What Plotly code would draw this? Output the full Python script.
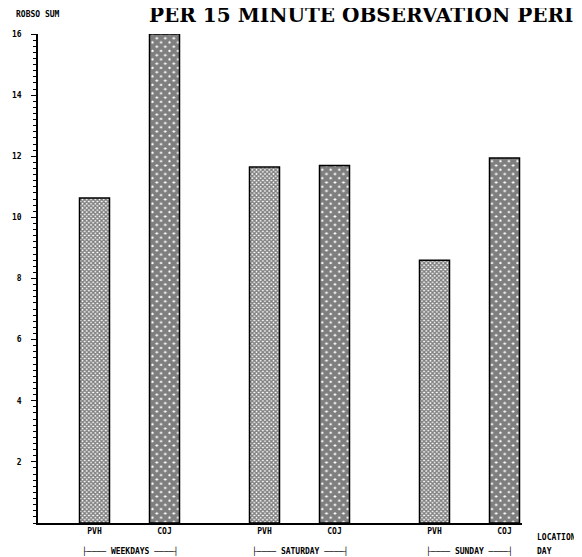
import plotly.graph_objects as go

# Data
days = ["WEEKDAYS", "SATURDAY", "SUNDAY"]
locations = ["PVH", "COJ"]
pvh_values = [10.63, 11.65, 8.6]
coj_values = [16.0, 11.7, 11.94]
y_ticks = [2, 4, 6, 8, 10, 12, 14, 16]

OFF = 8  # page body margin offset
W, H = 582 - OFF, 557 - OFF
L, T = 38 - OFF, 34 - OFF
R = W - (522 - OFF)
B = H - (523 - OFF)
plot_w = W - L - R
plot_h = H - T - B

group_step = 170
pair_step = 70
bar_w = 30
x_lo = -56.5
x_hi = x_lo + plot_w

def px_to_paper(px):
    return (px - OFF - L) / plot_w

def py_to_paper(py):
    return 1 - (py - OFF - T) / plot_h

pvh_x = [i * group_step for i in range(len(days))]
coj_x = [i * group_step + pair_step for i in range(len(days))]

mono = "DejaVu Sans Mono"
lab_font = dict(family=mono, size=8, color="black", weight="bold")

fig = go.Figure()
fig.add_trace(go.Bar(
    x=pvh_x, y=pvh_values, width=bar_w, name="PVH",
    marker=dict(color="white", line=dict(color="black", width=1.5),
                pattern=dict(shape="x", size=3, solidity=0.7, fgcolor="black", bgcolor="white")),
))
fig.add_trace(go.Bar(
    x=coj_x, y=coj_values, width=bar_w, name="COJ",
    marker=dict(color="white", line=dict(color="black", width=1.5),
                pattern=dict(shape="x", size=6, solidity=0.88, fgcolor="black", bgcolor="white")),
))

tickvals = []
ticktext = []
for a, b in zip(pvh_x, coj_x):
    tickvals += [a, b]
    ticktext += locations

fig.update_layout(
    width=W, height=H,
    margin=dict(l=L, r=R, t=T, b=B, autoexpand=False),
    paper_bgcolor="white", plot_bgcolor="white",
    showlegend=False,
    xaxis=dict(range=[x_lo, x_hi], tickvals=tickvals, ticktext=ticktext,
               showgrid=False, zeroline=False, showline=True, linecolor="black", linewidth=1.5,
               ticks="", tickfont=lab_font),
    yaxis=dict(range=[0, 16], tickvals=y_ticks, showgrid=False, zeroline=False,
               showline=True, linecolor="black", linewidth=1.5,
               ticks="outside", ticklen=5, tickcolor="black", tickwidth=1,
               ticklabelstandoff=8,
               tickfont=lab_font,
               minor=dict(dtick=0.2, ticks="outside", ticklen=3, tickcolor="black", tickwidth=1)),
)

anns = [
    dict(text="<b>PER 15 MINUTE OBSERVATION PERIOD</b>", x=px_to_paper(147), y=py_to_paper(15),
         xanchor="left", yanchor="middle", font=dict(family="DejaVu Serif", size=20, color="black")),
    dict(text="ROBSO SUM", x=px_to_paper(14), y=py_to_paper(14), xanchor="left", yanchor="middle",
         font=lab_font),
    dict(text="LOCATION", x=px_to_paper(535), y=py_to_paper(537), xanchor="left", yanchor="middle",
         font=lab_font),
    dict(text="DAY", x=px_to_paper(535), y=py_to_paper(551), xanchor="left", yanchor="middle",
         font=lab_font),
]
for d, a, b in zip(days, pvh_x, coj_x):
    cx = (a + b) / 2
    anns.append(dict(text="├──── " + d + " ────┤", x=cx, xref="x", y=py_to_paper(551), yref="paper",
                     xanchor="center", yanchor="middle", font=lab_font))
for a in anns:
    a.setdefault("xref", "paper")
    a.setdefault("yref", "paper")
    a["showarrow"] = False
fig.update_layout(annotations=anns)

fig.write_html("out.html")
